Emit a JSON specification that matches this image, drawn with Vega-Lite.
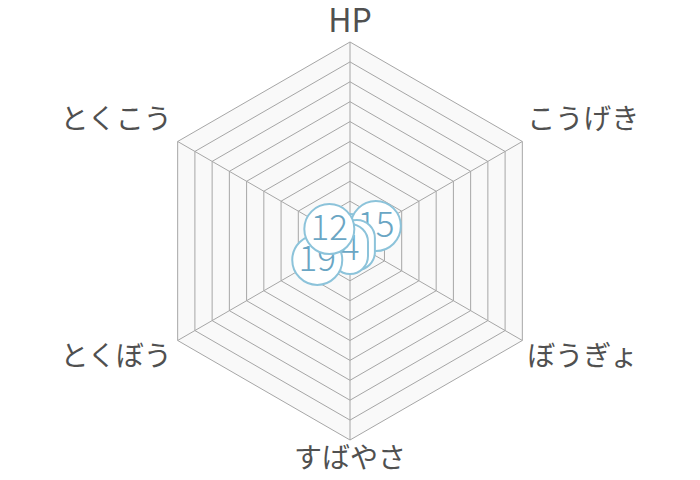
{
  "$schema": "https://vega.github.io/schema/vega-lite/v6.json",
  "width": 700,
  "height": 480,
  "autosize": {"type": "fit", "contains": "padding"},
  "padding": 0,
  "background": "white",
  "config": {"view": {"stroke": null}},
  "datasets": {
    "stats": [
      {"axis": "HP", "i": 0, "value": 1},
      {"axis": "こうげき", "i": 1, "value": 15},
      {"axis": "ぼうぎょ", "i": 2, "value": 4},
      {"axis": "すばやさ", "i": 3, "value": 4},
      {"axis": "とくぼう", "i": 4, "value": 19},
      {"axis": "とくこう", "i": 5, "value": 12}
    ],
    "grid": [
      {"axis": "HP", "i": 0, "level": [10, 20, 30, 40, 50, 60, 70, 80, 90, 100]},
      {"axis": "こうげき", "i": 1, "level": [10, 20, 30, 40, 50, 60, 70, 80, 90, 100]},
      {"axis": "ぼうぎょ", "i": 2, "level": [10, 20, 30, 40, 50, 60, 70, 80, 90, 100]},
      {"axis": "すばやさ", "i": 3, "level": [10, 20, 30, 40, 50, 60, 70, 80, 90, 100]},
      {"axis": "とくぼう", "i": 4, "level": [10, 20, 30, 40, 50, 60, 70, 80, 90, 100]},
      {"axis": "とくこう", "i": 5, "level": [10, 20, 30, 40, 50, 60, 70, 80, 90, 100]}
    ]
  },
  "encoding": {
    "x": {"field": "x", "type": "quantitative", "axis": null, "scale": {"domain": [-175.88, 175.88], "nice": false, "zero": false}},
    "y": {"field": "y", "type": "quantitative", "axis": null, "scale": {"domain": [-120.1, 121.1], "nice": false, "zero": false}}
  },
  "layer": [
    {
      "data": {"name": "grid"},
      "transform": [
        {"flatten": ["level"]},
        {"calculate": "datum.i * PI / 3", "as": "a"},
        {"calculate": "datum.level * sin(datum.a)", "as": "x"},
        {"calculate": "datum.level * cos(datum.a)", "as": "y"}
      ],
      "layer": [
        {
          "transform": [{"filter": "datum.level == 100"}],
          "mark": {"type": "line", "interpolate": "linear-closed", "fill": "#f9f9f9", "strokeOpacity": 0},
          "encoding": {"order": {"field": "i", "type": "quantitative"}}
        },
        {
          "transform": [{"filter": "datum.level == 100"}],
          "mark": {"type": "rule", "color": "#a6a6a6", "strokeWidth": 1},
          "encoding": {"x2": {"datum": 0}, "y2": {"datum": 0}}
        },
        {
          "mark": {"type": "line", "interpolate": "linear-closed", "color": "#a6a6a6", "strokeWidth": 1},
          "encoding": {
            "detail": {"field": "level", "type": "nominal"},
            "order": {"field": "i", "type": "quantitative"}
          }
        }
      ]
    },
    {
      "data": {"name": "stats"},
      "transform": [
        {"calculate": "datum.i * PI / 3", "as": "a"},
        {"calculate": "(datum.i % 3 == 0 ? 110 : 100) * sin(datum.a)", "as": "x"},
        {"calculate": "datum.i % 3 == 0 ? 110 * cos(datum.a) : 100 * cos(datum.a) + (cos(datum.a) > 0 ? 10.5 : -9)", "as": "y"}
      ],
      "encoding": {
        "text": {"field": "axis", "type": "nominal"},
        "size": {"condition": {"test": "datum.i == 0", "value": 32}, "value": 28}
      },
      "layer": [
        {
          "transform": [{"filter": "datum.i % 3 == 0"}],
          "mark": {"type": "text", "font": "Noto Sans CJK JP", "fontWeight": "normal", "color": "#505050", "baseline": "middle", "align": "center"}
        },
        {
          "transform": [{"filter": "datum.i == 1 || datum.i == 2"}],
          "mark": {"type": "text", "font": "Noto Sans CJK JP", "fontWeight": "normal", "color": "#505050", "baseline": "middle", "align": "left", "dx": 5}
        },
        {
          "transform": [{"filter": "datum.i == 4 || datum.i == 5"}],
          "mark": {"type": "text", "font": "Noto Sans CJK JP", "fontWeight": "normal", "color": "#505050", "baseline": "middle", "align": "right", "dx": -6}
        }
      ]
    },
    {
      "data": {"name": "stats"},
      "transform": [
        {"calculate": "datum.i * PI / 3", "as": "a"},
        {"calculate": "datum.value * sin(datum.a)", "as": "x"},
        {"calculate": "datum.value * cos(datum.a)", "as": "y"}
      ],
      "layer": [
        {
          "transform": [{"filter": "datum.i == 0"}],
          "layer": [
            {"mark": {"type": "point", "filled": true, "fill": "#ffffff", "stroke": "#8cc3da", "strokeWidth": 2, "opacity": 1, "strokeOpacity": 1, "fillOpacity": 1, "size": 2500},
             "encoding": {"shape": {"condition": {"test": "datum.value < 10", "value": "M-0.72,-0.28A0.72,0.72 0 0 1 0.72,-0.28L0.72,0.28A0.72,0.72 0 0 1 -0.72,0.28Z"}, "value": "circle"}}},
            {"mark": {"type": "text", "font": "Noto Sans CJK JP", "fontWeight": 300, "fontSize": 35, "color": "#6aa6c4", "baseline": "middle"},
             "encoding": {"text": {"field": "value", "type": "quantitative"}}}
          ]
        },
        {
          "transform": [{"filter": "datum.i == 1"}],
          "layer": [
            {"mark": {"type": "point", "filled": true, "fill": "#ffffff", "stroke": "#8cc3da", "strokeWidth": 2, "opacity": 1, "strokeOpacity": 1, "fillOpacity": 1, "size": 2500},
             "encoding": {"shape": {"condition": {"test": "datum.value < 10", "value": "M-0.72,-0.28A0.72,0.72 0 0 1 0.72,-0.28L0.72,0.28A0.72,0.72 0 0 1 -0.72,0.28Z"}, "value": "circle"}}},
            {"mark": {"type": "text", "font": "Noto Sans CJK JP", "fontWeight": 300, "fontSize": 35, "color": "#6aa6c4", "baseline": "middle"},
             "encoding": {"text": {"field": "value", "type": "quantitative"}}}
          ]
        },
        {
          "transform": [{"filter": "datum.i == 2"}],
          "layer": [
            {"mark": {"type": "point", "filled": true, "fill": "#ffffff", "stroke": "#8cc3da", "strokeWidth": 2, "opacity": 1, "strokeOpacity": 1, "fillOpacity": 1, "size": 2500},
             "encoding": {"shape": {"condition": {"test": "datum.value < 10", "value": "M-0.72,-0.28A0.72,0.72 0 0 1 0.72,-0.28L0.72,0.28A0.72,0.72 0 0 1 -0.72,0.28Z"}, "value": "circle"}}},
            {"mark": {"type": "text", "font": "Noto Sans CJK JP", "fontWeight": 300, "fontSize": 35, "color": "#6aa6c4", "baseline": "middle"},
             "encoding": {"text": {"field": "value", "type": "quantitative"}}}
          ]
        },
        {
          "transform": [{"filter": "datum.i == 3"}],
          "layer": [
            {"mark": {"type": "point", "filled": true, "fill": "#ffffff", "stroke": "#8cc3da", "strokeWidth": 2, "opacity": 1, "strokeOpacity": 1, "fillOpacity": 1, "size": 2500},
             "encoding": {"shape": {"condition": {"test": "datum.value < 10", "value": "M-0.72,-0.28A0.72,0.72 0 0 1 0.72,-0.28L0.72,0.28A0.72,0.72 0 0 1 -0.72,0.28Z"}, "value": "circle"}}},
            {"mark": {"type": "text", "font": "Noto Sans CJK JP", "fontWeight": 300, "fontSize": 35, "color": "#6aa6c4", "baseline": "middle"},
             "encoding": {"text": {"field": "value", "type": "quantitative"}}}
          ]
        },
        {
          "transform": [{"filter": "datum.i == 4"}],
          "layer": [
            {"mark": {"type": "point", "filled": true, "fill": "#ffffff", "stroke": "#8cc3da", "strokeWidth": 2, "opacity": 1, "strokeOpacity": 1, "fillOpacity": 1, "size": 2500},
             "encoding": {"shape": {"condition": {"test": "datum.value < 10", "value": "M-0.72,-0.28A0.72,0.72 0 0 1 0.72,-0.28L0.72,0.28A0.72,0.72 0 0 1 -0.72,0.28Z"}, "value": "circle"}}},
            {"mark": {"type": "text", "font": "Noto Sans CJK JP", "fontWeight": 300, "fontSize": 35, "color": "#6aa6c4", "baseline": "middle"},
             "encoding": {"text": {"field": "value", "type": "quantitative"}}}
          ]
        },
        {
          "transform": [{"filter": "datum.i == 5"}],
          "layer": [
            {"mark": {"type": "point", "filled": true, "fill": "#ffffff", "stroke": "#8cc3da", "strokeWidth": 2, "opacity": 1, "strokeOpacity": 1, "fillOpacity": 1, "size": 2500},
             "encoding": {"shape": {"condition": {"test": "datum.value < 10", "value": "M-0.72,-0.28A0.72,0.72 0 0 1 0.72,-0.28L0.72,0.28A0.72,0.72 0 0 1 -0.72,0.28Z"}, "value": "circle"}}},
            {"mark": {"type": "text", "font": "Noto Sans CJK JP", "fontWeight": 300, "fontSize": 35, "color": "#6aa6c4", "baseline": "middle"},
             "encoding": {"text": {"field": "value", "type": "quantitative"}}}
          ]
        }
      ]
    }
  ]
}
